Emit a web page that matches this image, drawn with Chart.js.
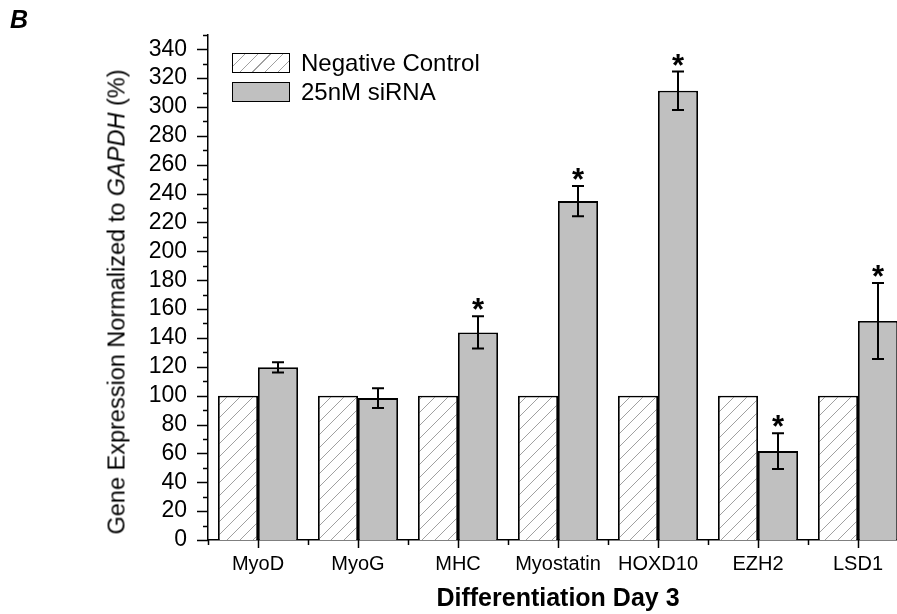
<!DOCTYPE html>
<html>
<head>
<meta charset="utf-8">
<title>Differentiation Day 3</title>
<script src="https://cdn.jsdelivr.net/npm/chart.js@4.4.0/dist/chart.umd.min.js"></script>
<style>
  html, body { margin: 0; padding: 0; background: #fff; overflow: hidden; }
  #wrap { position: relative; width: 897px; height: 614px; overflow: hidden; font-family: 'Liberation Sans', Arial, sans-serif; color: #000; }
  #mycanvas { position: absolute; left: 0; top: 0; }
  #panel { position: absolute; left: 10px; top: 5px; font-size: 25px; font-weight: bold; font-style: italic; }
  #ytitle { position: absolute; left: 117px; top: 302px; transform: translate(-50%, -50%) rotate(-90deg); white-space: nowrap; font-size: 23.5px; }
  .leg { position: absolute; left: 232px; height: 20px; display: flex; align-items: center; font-size: 24px; white-space: nowrap; }
  .leg .box { width: 58px; height: 20px; box-sizing: border-box; border: 1.8px solid #000; margin-right: 11px; }
  #leg1 { top: 53px; }
  #leg2 { top: 81.5px; }
  #leg1 .box { background: repeating-linear-gradient(135deg, #fff 0 8px, #a0a0a0 8px 9px); }
  #leg2 .box { background: #c0c0c0; }
</style>
</head>
<body>
<div id="wrap">
  <canvas id="mycanvas" width="912" height="614"></canvas>
  <div id="panel">B</div>
  <div id="ytitle">Gene Expression Normalized to <i>GAPDH</i> (%)</div>
  <div class="leg" id="leg1"><div class="box"></div><span>Negative Control</span></div>
  <div class="leg" id="leg2"><div class="box"></div><span>25nM siRNA</span></div>
</div>
<script>
// values
var genes = ['MyoD', 'MyoG', 'MHC', 'Myostatin', 'HOXD10', 'EZH2', 'LSD1'];
var negControl = [100, 100, 100, 100, 100, 100, 100];
var siRNA = [119.6, 98.3, 143.8, 234.8, 311.2, 61.6, 151.7];
var siRNAErr = [3.6, 6.8, 11.2, 10.5, 13.3, 12.4, 26.3];
var significant = [false, false, true, true, true, true, true];
var yMax = 350;
var yStep = 10;
var yLabelStep = 20;

var FONT = "'Liberation Sans', Arial, sans-serif";

function makeHatch() {
  var s = 13;
  var c = document.createElement('canvas');
  c.width = s; c.height = s;
  var g = c.getContext('2d');
  g.fillStyle = '#fff';
  g.fillRect(0, 0, s, s);
  g.strokeStyle = '#a0a0a0';
  g.lineWidth = 1;
  g.beginPath();
  g.moveTo(0, s); g.lineTo(s, 0);
  g.moveTo(-1, 1); g.lineTo(1, -1);
  g.moveTo(s - 1, s + 1); g.lineTo(s + 1, s - 1);
  g.stroke();
  return g.createPattern(c, 'repeat');
}

// tick marks: long at labelled values, short in between
var tickMarks = {
  id: 'tickMarks',
  afterDraw: function(chart) {
    var ctx = chart.ctx;
    var x = chart.scales.x, y = chart.scales.y;
    ctx.save();
    ctx.strokeStyle = '#000';
    ctx.lineWidth = 1.5;
    ctx.beginPath();
    for (var v = 0; v <= yMax; v += yStep) {
      var py = Math.round(y.getPixelForValue(v)) + 0.5;
      var len = (v % yLabelStep === 0) ? 11 : 5;
      ctx.moveTo(x.left - len, py);
      ctx.lineTo(x.left, py);
    }
    for (var i = 0; i < genes.length; i++) {
      var px = Math.round(x.getPixelForValue(i)) + 0.5;
      ctx.moveTo(px, y.bottom);
      ctx.lineTo(px, y.bottom + 8);
    }
    for (var j = 0; j <= genes.length; j++) {
      var mx = Math.round(x.getPixelForValue(j - 0.5)) + 0.5;
      ctx.moveTo(mx, y.bottom);
      ctx.lineTo(mx, y.bottom + 5);
    }
    ctx.stroke();
    ctx.restore();
  }
};

// error bars and significance stars on the siRNA bars
var errorBars = {
  id: 'errorBars',
  afterDatasetsDraw: function(chart) {
    var ctx = chart.ctx;
    var y = chart.scales.y;
    var meta = chart.getDatasetMeta(1);
    ctx.save();
    ctx.strokeStyle = '#000';
    ctx.lineWidth = 2;
    ctx.fillStyle = '#000';
    ctx.font = 'bold 31px ' + FONT;
    ctx.textAlign = 'center';
    ctx.textBaseline = 'alphabetic';
    var m = ctx.measureText('*');
    for (var i = 0; i < siRNA.length; i++) {
      var bx = Math.round(meta.data[i].x);
      var top = y.getPixelForValue(siRNA[i] + siRNAErr[i]);
      var bot = y.getPixelForValue(siRNA[i] - siRNAErr[i]);
      ctx.beginPath();
      ctx.moveTo(bx, top); ctx.lineTo(bx, bot);
      ctx.moveTo(bx - 6, top); ctx.lineTo(bx + 6, top);
      ctx.moveTo(bx - 6, bot); ctx.lineTo(bx + 6, bot);
      ctx.stroke();
      if (significant[i]) {
        ctx.fillText('*', bx, top - 6 - m.actualBoundingBoxDescent);
      }
    }
    ctx.restore();
  }
};

Chart.defaults.font.family = FONT;
Chart.defaults.color = '#000';

var barGraph = new Chart(document.getElementById('mycanvas'), {
  type: 'bar',
  data: {
    labels: genes,
    datasets: [
      {
        label: 'Negative Control',
        data: negControl,
        backgroundColor: makeHatch(),
        borderColor: '#000',
        borderWidth: 1.8,
        categoryPercentage: 0.8,
        barPercentage: 1.0
      },
      {
        label: '25nM siRNA',
        data: siRNA,
        backgroundColor: '#c0c0c0',
        borderColor: '#000',
        borderWidth: 1.8,
        categoryPercentage: 0.8,
        barPercentage: 1.0
      }
    ]
  },
  options: {
    responsive: false,
    animation: false,
    events: [],
    layout: { padding: { top: 34, right: 4, left: 0, bottom: 0 } },
    plugins: {
      legend: { display: false },
      tooltip: { enabled: false }
    },
    scales: {
      x: {
        grid: { display: false, drawTicks: false },
        border: { display: true, color: '#000', width: 1.5 },
        ticks: { font: { size: 20 }, padding: 12, maxRotation: 0, autoSkip: false },
        title: {
          display: true,
          text: 'Differentiation Day 3',
          font: { size: 25, weight: 'bold' },
          padding: { top: 0, bottom: 0 }
        },
        afterFit: function(scale) { scale.height = 74; }
      },
      y: {
        min: 0,
        max: yMax,
        grid: { display: false, drawTicks: false },
        border: { display: true, color: '#000', width: 1.5 },
        ticks: {
          stepSize: yStep,
          autoSkip: false,
          padding: 21,
          font: { size: 23 },
          callback: function(value) { return value % yLabelStep === 0 ? value : ''; }
        },
        afterFit: function(scale) { scale.width = 208; }
      }
    }
  },
  plugins: [tickMarks, errorBars]
});
</script>
</body>
</html>
